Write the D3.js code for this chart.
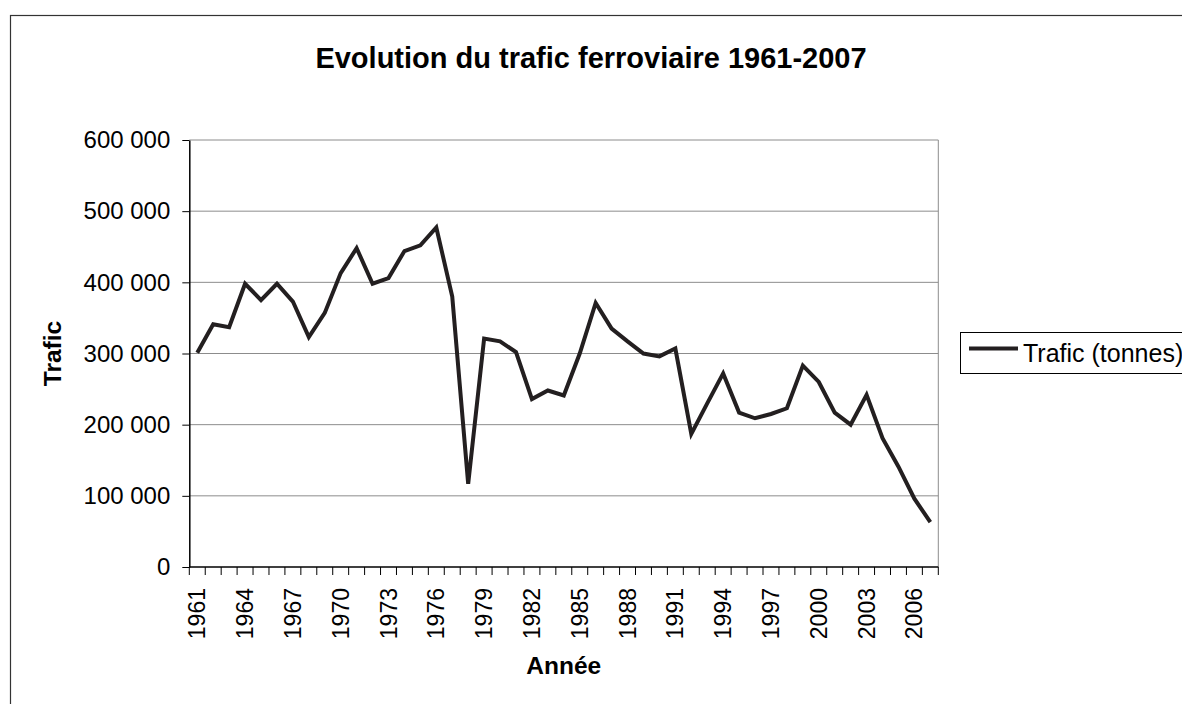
<!DOCTYPE html>
<html>
<head>
    <meta charset="utf-8">
    <style>
        body {
            margin: 0;
            background: #fff;
            font-family: "Liberation Sans", Arial, sans-serif;
            overflow: hidden;
        }
        .grid line {
            stroke: #8c8c8c;
            stroke-width: 1px;
        }
        .axis text {
            font-size: 23px;
            fill: #000;
        }
        .axis.yaxis text {
            font-size: 24px;
        }
        .axis path, .axis line {
            stroke: #000;
        }
        .title {
            font-size: 29px;
            font-weight: bold;
        }
        .axis-title {
            font-size: 24.5px;
            font-weight: bold;
        }
    </style>
    <script src="https://d3js.org/d3.v7.min.js"></script>
</head>
<body>
<script>
    const years = d3.range(1961, 2008);
    const trafic = [
        301000, 341000, 337000, 398000, 375000, 398000, 373000, 323000, 357000, 413000,
        448000, 398000, 406000, 444000, 452000, 477000, 380000, 117000, 321000, 317000,
        302000, 236000, 248000, 241000, 300000, 371000, 335000, 317000, 300000, 296000,
        307000, 187000, 230000, 272000, 217000, 209000, 215000, 223000, 283000, 260000,
        217000, 200000, 242000, 181000, 141000, 96000, 63000
    ];
    const yTicks = [0, 100000, 200000, 300000, 400000, 500000, 600000];
    const labelYears = years.filter((d, i) => i % 3 === 0);
    const seriesName = 'Trafic (tonnes)';

    const width = 1182,
        height = 704;
    const margin = {left: 189.3, right: 938.3, top: 140, bottom: 567};

    const locale = d3.formatLocale({decimal: ',', thousands: ' ', grouping: [3], currency: ['', ' €']});
    const fmt = locale.format(',d');

    const svg = d3.select('body').append('svg')
        .attr('width', width)
        .attr('height', height);

    // outer chart frame (runs off the picture on right and bottom)
    svg.append('rect')
        .attr('x', 10.5).attr('y', 15.5)
        .attr('width', 1200).attr('height', 720)
        .attr('fill', '#fff')
        .attr('stroke', '#333')
        .attr('stroke-width', 1.2);

    const x = d3.scaleBand()
        .domain(years)
        .range([margin.left, margin.right])
        .padding(0);
    const y = d3.scaleLinear()
        .domain([0, 600000])
        .range([margin.bottom, margin.top]);

    // gridlines
    svg.append('g').attr('class', 'grid')
        .selectAll('line')
        .data(yTicks.filter(d => d > 0))
        .enter().append('line')
        .attr('x1', margin.left).attr('x2', margin.right)
        .attr('y1', d => y(d)).attr('y2', d => y(d));

    // right border of plot area
    svg.append('line')
        .attr('x1', margin.right).attr('x2', margin.right)
        .attr('y1', margin.top).attr('y2', margin.bottom)
        .attr('stroke', '#8c8c8c');

    // y axis
    const yAxis = svg.append('g').attr('class', 'axis yaxis')
        .attr('transform', `translate(${margin.left},0)`)
        .call(d3.axisLeft(y).tickValues(yTicks).tickFormat(fmt).tickSize(7).tickPadding(12).tickSizeOuter(0));
    yAxis.select('.domain').attr('stroke-width', 1.5);

    // x axis: ticks between categories, labels every 3 years
    const xAxis = svg.append('g').attr('class', 'axis')
        .attr('transform', `translate(0,${margin.bottom})`);
    xAxis.append('line')
        .attr('x1', margin.left).attr('x2', margin.right)
        .attr('stroke', '#000').attr('stroke-width', 1.5);
    xAxis.selectAll('line.tick')
        .data(years.concat([2008]))
        .enter().append('line')
        .attr('class', 'tick')
        .attr('x1', (d, i) => margin.left + i * x.bandwidth())
        .attr('x2', (d, i) => margin.left + i * x.bandwidth())
        .attr('y1', 0).attr('y2', 8)
        .attr('stroke', '#000');
    xAxis.selectAll('text')
        .data(labelYears)
        .enter().append('text')
        .attr('transform', d => `translate(${x(d) + x.bandwidth() / 2 + 8},21) rotate(-90)`)
        .attr('text-anchor', 'end')
        .text(d => d);

    // line
    const line = d3.line()
        .x((d, i) => x(years[i]) + x.bandwidth() / 2)
        .y(d => y(d));
    svg.append('path')
        .datum(trafic)
        .attr('fill', 'none')
        .attr('stroke', '#231f20')
        .attr('stroke-width', 4)
        .attr('stroke-linejoin', 'miter')
        .attr('d', line);

    // titles
    svg.append('text').attr('class', 'title')
        .attr('x', 591).attr('y', 68)
        .attr('text-anchor', 'middle')
        .text('Evolution du trafic ferroviaire 1961-2007');
    svg.append('text').attr('class', 'axis-title')
        .attr('transform', `translate(61,${(margin.top + margin.bottom) / 2}) rotate(-90)`)
        .attr('text-anchor', 'middle')
        .text('Trafic');
    svg.append('text').attr('class', 'axis-title')
        .attr('x', (margin.left + margin.right) / 2).attr('y', 674)
        .attr('text-anchor', 'middle')
        .text('Année');

    // legend
    const legend = svg.append('g');
    legend.append('rect')
        .attr('x', 960.5).attr('y', 332.5)
        .attr('width', 240).attr('height', 41)
        .attr('fill', '#fff').attr('stroke', '#000');
    legend.append('line')
        .attr('x1', 969).attr('x2', 1018)
        .attr('y1', 348.5).attr('y2', 348.5)
        .attr('stroke', '#231f20').attr('stroke-width', 4);
    legend.append('text')
        .attr('x', 1023).attr('y', 361.5)
        .style('font-size', '25px')
        .text(seriesName);
</script>
</body>
</html>
